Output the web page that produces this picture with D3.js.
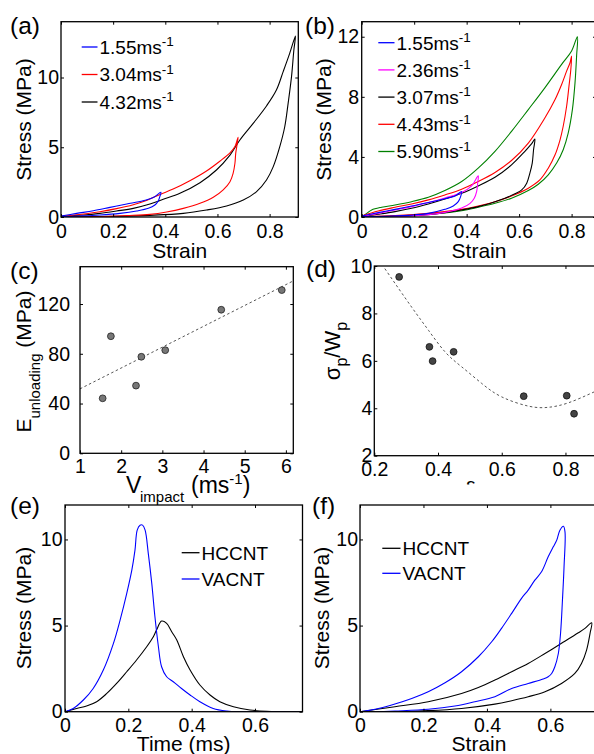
<!DOCTYPE html>
<html><head><meta charset="utf-8">
<script src="https://cdn.jsdelivr.net/npm/d3@7"></script>
<style>
html,body{margin:0;padding:0;background:#fff;}
svg{display:block;font-family:"Liberation Sans",Arial,Helvetica,sans-serif;}
</style></head><body>
<svg id="fig" width="594" height="754"></svg>
<script>
// ---------- DATA ----------
// (a) stress-strain loops, [strain, stress MPa]
const a155 = [[0,0.07],[0.06,0.26],[0.124,0.45],[0.188,0.69],[0.252,0.93],[0.315,1.17],[0.354,1.39],[0.383,1.77],[0.379,1.46],[0.373,1.15],[0.36,0.86],[0.335,0.62],[0.29,0.43],[0.226,0.26],[0.149,0.14],[0.073,0.07],[0,0.02]];
const a304 = [[0,0.05],[0.086,0.22],[0.149,0.38],[0.213,0.6],[0.277,0.88],[0.33,1.2],[0.38,1.62],[0.43,2.0],[0.494,2.6],[0.558,3.3],[0.609,4.0],[0.648,4.6],[0.667,5.05],[0.679,5.71],[0.676,5.28],[0.67,4.56],[0.667,3.85],[0.66,3.13],[0.648,2.53],[0.622,1.94],[0.584,1.41],[0.533,0.98],[0.469,0.62],[0.405,0.36],[0.341,0.19],[0.252,0.1],[0.149,0.02],[0,0]];
const a432 = [[0,0.05],[0.086,0.14],[0.149,0.26],[0.213,0.43],[0.277,0.62],[0.341,0.93],[0.392,1.27],[0.456,1.7],[0.533,2.46],[0.596,3.37],[0.648,4.44],[0.686,5.52],[0.737,6.71],[0.788,7.96],[0.826,9.1],[0.852,10.42],[0.877,11.73],[0.899,12.97],[0.893,11.97],[0.884,10.06],[0.871,8.15],[0.858,6.47],[0.839,5.04],[0.814,3.61],[0.788,2.65],[0.75,1.82],[0.699,1.22],[0.635,0.79],[0.558,0.5],[0.469,0.26],[0.341,0.12],[0.213,0.05],[0,0]];
const aLegend = ["1.55ms", "3.04ms", "4.32ms"];

// (b) stress-strain loops
const b155 = [[0,0.07],[0.063,0.29],[0.127,0.51],[0.19,0.73],[0.254,0.96],[0.317,1.22],[0.356,1.4],[0.381,1.69],[0.377,1.36],[0.368,1.02],[0.349,0.73],[0.317,0.51],[0.254,0.24],[0.178,0.11],[0.089,0.04],[0,0.02]];
const b236 = [[0,0.04],[0.063,0.24],[0.127,0.47],[0.19,0.69],[0.254,0.96],[0.317,1.27],[0.381,1.63],[0.419,2.07],[0.444,2.74],[0.442,2.25],[0.438,1.69],[0.429,1.25],[0.413,0.91],[0.381,0.6],[0.317,0.31],[0.254,0.16],[0.127,0.04],[0,0.02]];
const b307 = [[0,0.02],[0.063,0.18],[0.127,0.36],[0.19,0.58],[0.254,0.87],[0.317,1.2],[0.381,1.58],[0.444,2.07],[0.508,2.65],[0.571,3.47],[0.622,4.37],[0.648,4.88],[0.66,5.19],[0.655,4.48],[0.65,3.59],[0.641,2.92],[0.629,2.25],[0.61,1.8],[0.584,1.54],[0.546,1.25],[0.508,1.02],[0.444,0.69],[0.381,0.47],[0.317,0.29],[0.254,0.16],[0.127,0.04],[0,0.02]];
const b443 = [[0,0.07],[0.063,0.4],[0.127,0.65],[0.19,0.87],[0.254,1.14],[0.317,1.47],[0.381,1.85],[0.444,2.36],[0.508,2.96],[0.571,3.76],[0.635,4.92],[0.698,6.59],[0.737,7.82],[0.762,8.82],[0.781,9.71],[0.794,10.27],[0.8,10.71],[0.797,9.82],[0.79,8.71],[0.781,7.37],[0.768,6.04],[0.756,5.14],[0.737,4.14],[0.711,3.25],[0.679,2.47],[0.635,1.92],[0.571,1.4],[0.508,1.02],[0.444,0.73],[0.381,0.51],[0.254,0.24],[0.127,0.09],[0,0.02]];
const b590 = [[0,0.02],[0.019,0.24],[0.038,0.47],[0.076,0.65],[0.127,0.8],[0.19,1.02],[0.254,1.31],[0.317,1.76],[0.381,2.36],[0.444,3.25],[0.508,4.37],[0.571,5.7],[0.635,7.15],[0.698,8.6],[0.762,10.16],[0.8,11.05],[0.822,12.0],[0.819,10.71],[0.813,8.93],[0.803,7.15],[0.787,5.59],[0.768,4.48],[0.743,3.59],[0.711,2.81],[0.673,2.18],[0.635,1.76],[0.571,1.25],[0.508,0.91],[0.444,0.65],[0.381,0.42],[0.254,0.18],[0.127,0.07],[0,0.02]];
const bLegend = ["1.55ms", "2.36ms", "3.07ms", "4.43ms", "5.90ms"];

// (c) unloading modulus vs impact velocity
const cV = [1.55, 1.75, 2.36, 2.49, 3.07, 4.43, 5.90];
const cE = [44.2, 94.1, 54.4, 77.6, 82.9, 115.4, 131.2];
const cFitV = [1, 6.18];
const cFitE = [51.8, 138.6];

// (d) sigma_p / W_p vs peak strain
const dStrain = [0.278, 0.373, 0.383, 0.449, 0.669, 0.804, 0.827];
const dRatio = [9.54, 6.59, 5.99, 6.38, 4.51, 4.53, 3.77];
const dFitX = [0.233, 0.317, 0.37, 0.422, 0.474, 0.537, 0.6, 0.684, 0.746, 0.809, 0.89];
const dFitY = [9.89, 8.27, 7.29, 6.38, 5.75, 5.05, 4.48, 4.09, 4.04, 4.23, 4.69];

// (e) stress vs time [ms, MPa]
const eHCCNT = [[0,0],[0.037,0.19],[0.068,0.33],[0.1,0.58],[0.132,1.06],[0.163,1.64],[0.195,2.32],[0.226,3.0],[0.258,3.77],[0.279,4.35],[0.289,4.74],[0.305,5.26],[0.321,5.13],[0.337,4.64],[0.353,4.16],[0.374,3.19],[0.395,2.42],[0.426,1.55],[0.458,0.97],[0.489,0.58],[0.532,0.29],[0.584,0.1],[0.637,0.02],[0.75,0]];
const eVACNT = [[0,0],[0.026,0.19],[0.058,0.68],[0.089,1.35],[0.121,2.42],[0.153,3.97],[0.174,5.32],[0.195,6.87],[0.211,8.22],[0.221,9.38],[0.228,10.54],[0.237,10.83],[0.245,10.83],[0.253,10.54],[0.263,9.19],[0.274,7.45],[0.284,5.51],[0.295,3.77],[0.305,2.61],[0.321,2.03],[0.342,1.74],[0.368,1.35],[0.395,0.97],[0.426,0.58],[0.468,0.19],[0.511,0.04],[0.553,0],[0.75,0]];

// (f) stress vs strain
const fHCCNT = [[0,0],[0.11,0.29],[0.215,0.58],[0.32,1.06],[0.373,1.41],[0.425,1.84],[0.478,2.32],[0.53,2.8],[0.583,3.38],[0.635,3.97],[0.688,4.58],[0.709,4.84],[0.73,5.16],[0.725,4.55],[0.714,3.58],[0.698,2.8],[0.677,2.22],[0.635,1.64],[0.583,1.16],[0.53,0.87],[0.478,0.64],[0.425,0.44],[0.32,0.19],[0.215,0.06],[0.11,0],[0,0]];
const fVACNT = [[0,0],[0.058,0.19],[0.11,0.45],[0.163,0.77],[0.215,1.16],[0.268,1.68],[0.32,2.32],[0.373,3.19],[0.415,4.06],[0.446,4.84],[0.478,5.71],[0.509,6.58],[0.53,7.06],[0.551,7.64],[0.572,8.12],[0.593,8.99],[0.609,9.57],[0.62,9.96],[0.63,10.54],[0.641,10.77],[0.646,10.44],[0.643,8.41],[0.638,6.48],[0.632,4.55],[0.625,3.38],[0.614,2.61],[0.604,2.22],[0.593,2.03],[0.577,1.9],[0.53,1.64],[0.478,1.35],[0.425,0.87],[0.362,0.58],[0.299,0.33],[0.215,0.14],[0.11,0.04],[0.058,0]];
const efLegend = ["HCCNT", "VACNT"];

// tick values
const ticksStrain = [0, 0.2, 0.4, 0.6, 0.8];
const ticksA_y = [0, 5, 10];
const ticksB_y = [0, 4, 8, 12];
const ticksC_x = [1, 2, 3, 4, 5, 6];
const ticksC_y = [0, 40, 80, 120];
const ticksD_x = [0.2, 0.4, 0.6, 0.8];
const ticksD_y = [2, 4, 6, 8, 10];
const ticksEF_x = [0, 0.2, 0.4, 0.6];
const ticksEF_y = [0, 5, 10];

// ---------- DRAWING ----------
const svg = d3.select("#fig");
svg.append("rect").attr("width", 594).attr("height", 754).attr("fill", "#fff");
const defs = svg.append("defs");
const TICK_FS = 19.5, LAB_FS = 21, LEG_FS = 19;
const GREEN = "#008000";

let clipN = 0;
function panel(o) {
  const x = d3.scaleLinear().domain(o.xd).range(o.xr);
  const y = d3.scaleLinear().domain(o.yd).range(o.yr);
  const g = svg.append("g");
  const id = "clip" + (clipN++);
  defs.append("clipPath").attr("id", id).append("rect")
    .attr("x", o.xr[0]).attr("y", o.yr[1]).attr("width", o.xr[1] - o.xr[0]).attr("height", o.yr[0] - o.yr[1]);
  const plot = g.append("g").attr("clip-path", `url(#${id})`);
  const fmt = d => String(d);
  const axB = g.append("g").attr("transform", `translate(0,${o.yr[0]})`)
    .call(d3.axisBottom(x).tickValues(o.xt).tickSizeInner(-3).tickSizeOuter(0).tickPadding(o.padX).tickFormat(fmt));
  const axT = g.append("g").attr("transform", `translate(0,${o.yr[1]})`)
    .call(d3.axisTop(x).tickValues(o.xt).tickSizeInner(-3).tickSizeOuter(0).tickFormat(""));
  const axL = g.append("g").attr("transform", `translate(${o.xr[0]},0)`)
    .call(d3.axisLeft(y).tickValues(o.yt).tickSizeInner(-3).tickSizeOuter(0).tickPadding(o.padY).tickFormat(fmt));
  const axR = g.append("g").attr("transform", `translate(${o.xr[1]},0)`)
    .call(d3.axisRight(y).tickValues(o.yt).tickSizeInner(-3).tickSizeOuter(0).tickFormat(""));
  [axB, axT, axL, axR].forEach(a => {
    a.attr("font-size", TICK_FS).attr("font-family", null);
    a.select(".domain").remove();
    a.selectAll("line").attr("stroke", "#000").attr("stroke-width", 1);
    a.selectAll("text").attr("fill", "#000");
  });
  g.append("rect").attr("x", o.xr[0]).attr("y", o.yr[1])
    .attr("width", o.xr[1] - o.xr[0]).attr("height", o.yr[0] - o.yr[1])
    .attr("fill", "none").attr("stroke", "#000").attr("stroke-width", 1.3);
  return {x, y, g, plot};
}

function curve(p, data, color) {
  const line = d3.line().x(d => p.x(d[0])).y(d => p.y(d[1])).curve(d3.curveCatmullRom.alpha(0.5));
  p.plot.append("path").datum(data).attr("d", line)
    .attr("fill", "none").attr("stroke", color).attr("stroke-width", 1.1).attr("stroke-linejoin", "round");
}

function legend(g, items, x0, x1, yc, dy, withSup) {
  items.forEach((it, i) => {
    const yy = yc + i * dy;
    g.append("line").attr("x1", x0).attr("x2", x1).attr("y1", yy).attr("y2", yy)
      .attr("stroke", it.color).attr("stroke-width", 1.3);
    const t = g.append("text").attr("x", x1 + 2).attr("y", yy + 6.8).attr("font-size", LEG_FS).attr("fill", "#000").text(it.label);
    if (withSup) t.append("tspan").attr("dy", -7.5).attr("font-size", 13.5).text("-1");
  });
}

function panelLetter(txt, x, y) {
  svg.append("text").attr("x", x).attr("y", y).attr("font-size", 24.5).attr("fill", "#000").text(txt);
}
function xLabel(txt, x, y) {
  return svg.append("text").attr("x", x).attr("y", y).attr("text-anchor", "middle").attr("font-size", LAB_FS).attr("fill", "#000").text(txt);
}
function yLabel(txt, x, y) {
  return svg.append("text").attr("transform", `translate(${x},${y}) rotate(-90)`).attr("text-anchor", "middle").attr("font-size", LAB_FS).attr("fill", "#000").text(txt);
}

// (a)
const pA = panel({xd: [0, 0.91], xr: [61, 298.3], yd: [0, 14], yr: [217, 21.7], xt: ticksStrain, yt: ticksA_y, padX: 7, padY: 2});
curve(pA, a432, "#000");
curve(pA, a304, "#ff0000");
curve(pA, a155, "#0000ff");
legend(pA.g, [{label: aLegend[0], color: "#0000ff"}, {label: aLegend[1], color: "#ff0000"}, {label: aLegend[2], color: "#000"}], 81.7, 97.5, 47, 27.5, true);
panelLetter("(a)", 10, 34);
xLabel("Strain", 179.7, 257.5);
yLabel("Stress (MPa)", 30.5, 119.5);

// (b)
const pB = panel({xd: [0, 0.893], xr: [361.7, 596], yd: [0, 13], yr: [217, 21.7], xt: ticksStrain, yt: ticksB_y, padX: 7, padY: 2.5});
curve(pB, b590, GREEN);
curve(pB, b443, "#ff0000");
curve(pB, b307, "#000");
curve(pB, b236, "#ff00ff");
curve(pB, b155, "#0000ff");
legend(pB.g, [{label: bLegend[0], color: "#0000ff"}, {label: bLegend[1], color: "#ff00ff"}, {label: bLegend[2], color: "#000"}, {label: bLegend[3], color: "#ff0000"}, {label: bLegend[4], color: GREEN}], 378.3, 394.5, 42.7, 27.2, true);
panelLetter("(b)", 305, 34);
xLabel("Strain", 479, 257.5);
yLabel("Stress (MPa)", 331, 119.5);

// (c)
const pC = panel({xd: [1, 6.18], xr: [80, 293.3], yd: [0, 150], yr: [453.3, 266.7], xt: ticksC_x, yt: ticksC_y, padX: 6, padY: 10});
pC.plot.append("path").datum(cFitV.map((v, i) => [v, cFitE[i]]))
  .attr("d", d3.line().x(d => pC.x(d[0])).y(d => pC.y(d[1])))
  .attr("fill", "none").attr("stroke", "#555").attr("stroke-width", 1).attr("stroke-dasharray", "2.5,2.5");
pC.plot.selectAll("circle").data(cV.map((v, i) => [v, cE[i]])).join("circle")
  .attr("cx", d => pC.x(d[0])).attr("cy", d => pC.y(d[1])).attr("r", 3.4)
  .attr("fill", "#777").attr("stroke", "#222").attr("stroke-width", 0.8);
panelLetter("(c)", 10, 279);
{
  const t = svg.append("text").attr("x", 126).attr("y", 493).attr("font-size", 23).attr("fill", "#000");
  t.append("tspan").text("V");
  t.append("tspan").attr("x", 140).attr("dy", 8.5).attr("font-size", 15).text("impact");
  t.append("tspan").attr("x", 191).attr("dy", -8.5).text("(ms");
  t.append("tspan").attr("dy", -9).attr("font-size", 15).text("-1");
  t.append("tspan").attr("dy", 9).text(")");
  const yl = svg.append("text").attr("transform", "translate(31,361.5) rotate(-90)").attr("text-anchor", "middle").attr("font-size", LAB_FS).attr("fill", "#000");
  yl.append("tspan").text("E");
  yl.append("tspan").attr("dy", 9).attr("font-size", 15).text("unloading");
  yl.append("tspan").attr("dy", -9).text(" (MPa)");
}

// (d)
const pD = panel({xd: [0.2, 0.899], xr: [374.3, 597], yd: [2, 10], yr: [455.7, 266], xt: ticksD_x, yt: ticksD_y, padX: 6, padY: 2});
pD.plot.append("path").datum(dFitX.map((v, i) => [v, dFitY[i]]))
  .attr("d", d3.line().x(d => pD.x(d[0])).y(d => pD.y(d[1])).curve(d3.curveNatural))
  .attr("fill", "none").attr("stroke", "#555").attr("stroke-width", 1).attr("stroke-dasharray", "2.5,2.5");
pD.plot.selectAll("circle").data(dStrain.map((v, i) => [v, dRatio[i]])).join("circle")
  .attr("cx", d => pD.x(d[0])).attr("cy", d => pD.y(d[1])).attr("r", 3.4)
  .attr("fill", "#444").attr("stroke", "#111").attr("stroke-width", 0.8);
panelLetter("(d)", 306, 277);
{
  defs.append("clipPath").attr("id", "epsClip").append("rect").attr("x", 440).attr("y", 470).attr("width", 60).attr("height", 14.5);
  svg.append("text").attr("clip-path", "url(#epsClip)").attr("x", 470.7).attr("y", 492).attr("text-anchor", "middle")
    .attr("font-size", LAB_FS).attr("fill", "#000").text("ε");
  const yl = svg.append("text").attr("transform", "translate(340,351) rotate(-90)").attr("text-anchor", "middle").attr("font-size", 22).attr("fill", "#000");
  yl.append("tspan").text("σ");
  yl.append("tspan").attr("dy", 7).attr("font-size", 16).text("p");
  yl.append("tspan").attr("dy", -7).text("/W");
  yl.append("tspan").attr("dy", 7).attr("font-size", 16).text("p");
}

// (e)
const pE = panel({xd: [0, 0.75], xr: [65, 302.5], yd: [0, 12], yr: [711.7, 505], xt: ticksEF_x, yt: ticksEF_y, padX: 6.5, padY: 2.5});
curve(pE, eHCCNT, "#000");
curve(pE, eVACNT, "#0000ff");
legend(pE.g, [{label: efLegend[0], color: "#000"}, {label: efLegend[1], color: "#0000ff"}], 181.7, 199.5, 552.7, 26.3, false);
panelLetter("(e)", 10, 514);
xLabel("Time (ms)", 183.7, 751);
yLabel("Stress (MPa)", 31, 608);

// (f)
const pF = panel({xd: [0, 0.75], xr: [360, 598], yd: [0, 12], yr: [711.7, 505], xt: ticksEF_x, yt: ticksEF_y, padX: 6.5, padY: 2});
curve(pF, fHCCNT, "#000");
curve(pF, fVACNT, "#0000ff");
legend(pF.g, [{label: efLegend[0], color: "#000"}, {label: efLegend[1], color: "#0000ff"}], 382.3, 400.5, 548.3, 25, false);
panelLetter("(f)", 312, 514);
xLabel("Strain", 479, 751);
yLabel("Stress (MPa)", 329, 608);
</script></body></html>
